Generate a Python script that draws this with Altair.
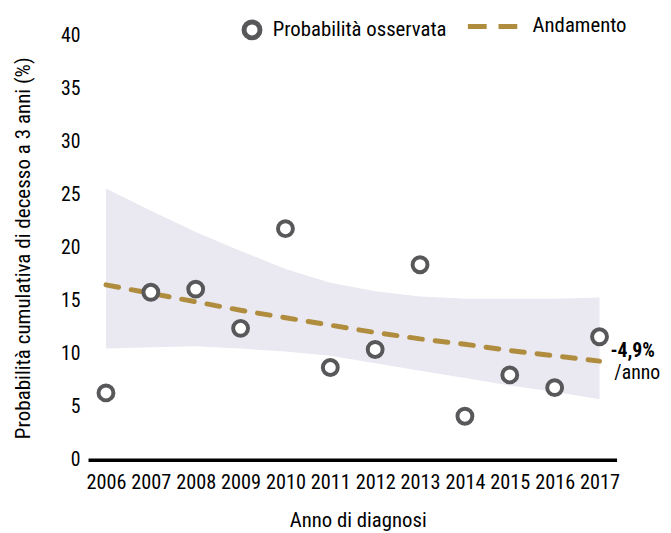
import altair as alt
import pandas as pd

years = [2006, 2007, 2008, 2009, 2010, 2011, 2012, 2013, 2014, 2015, 2016, 2017]
observed = [6.3, 15.8, 16.1, 12.4, 21.8, 8.7, 10.4, 18.4, 4.1, 8.0, 6.8, 11.6]
trend = [16.5, 15.7, 14.9, 14.1, 13.4, 12.7, 12.0, 11.4, 10.9, 10.3, 9.8, 9.3]
band_upper = [25.6, 23.5, 21.5, 19.7, 18.0, 16.7, 15.9, 15.4, 15.2, 15.2, 15.2, 15.3]
band_lower = [10.5, 10.6, 10.7, 10.5, 10.2, 9.8, 9.1, 8.4, 7.7, 7.0, 6.4, 5.7]
annot_main = "-4,9%"
annot_sub = "/anno"
lbl_obs = "Probabilità osservata"
lbl_trend = "Andamento"

FONT = "Roboto Condensed, Roboto, sans-serif"
GOLD = "#b08d3e"
GREY = "#58585a"
BAND = "#eae8f0"

df = pd.DataFrame({
    "anno": years,
    "oss": observed,
    "trend": trend,
    "up": band_upper,
    "lo": band_lower,
    "s_obs": [lbl_obs] * len(years),
    "s_trend": [lbl_trend] * len(years),
})
df_last = pd.DataFrame({"anno": [years[-1]], "trend": [trend[-1]],
                        "t1": [annot_main], "t2": [annot_sub]})

x_enc = alt.X("anno:Q",
              scale=alt.Scale(domain=[2005.6, 2017.38], nice=False, zero=False),
              axis=alt.Axis(title="Anno di diagnosi", values=years, format="d",
                            grid=False, ticks=False, domain=True,
                            domainColor="black", domainWidth=3.5,
                            labelOverlap=False, labelFlush=False,
                            labelFontSize=20.5, labelPadding=13, labelColor="black",
                            titleFontSize=21, titleFontWeight="normal",
                            titlePadding=17, titleColor="black", titleX=273,
                            labelFont=FONT, titleFont=FONT))
y_scale = alt.Scale(domain=[0, 40], nice=False)
y_axis = alt.Axis(title="Probabilità cumulativa di decesso a 3 anni (%)",
                  values=[0, 5, 10, 15, 20, 25, 30, 35, 40],
                  grid=False, ticks=False, domain=False,
                  labelFontSize=20, labelPadding=8, labelColor="black",
                  titleFontSize=21.3, titleFontWeight="normal", titlePadding=27,
                  titleColor="black", labelFont=FONT, titleFont=FONT)

base = alt.Chart(df)

band = base.mark_area(color=BAND, opacity=1).encode(
    x=x_enc,
    y=alt.Y("up:Q", scale=y_scale, axis=y_axis),
    y2="lo:Q",
)

line = base.mark_line(strokeWidth=5, strokeDash=[13, 13], strokeCap="round").encode(
    x="anno:Q",
    y="trend:Q",
    color=alt.Color("s_trend:N",
                    scale=alt.Scale(domain=[lbl_trend], range=[GOLD]),
                    legend=alt.Legend(title=None, orient="none", legendX=382, legendY=-37,
                                      symbolType="stroke", symbolDash=[19, 12],
                                      symbolStrokeWidth=5, symbolSize=2500,
                                      labelFontSize=21, labelFont=FONT, labelLimit=0,
                                      labelColor="black", labelOffset=13,
                                      padding=0)),
)

points = base.mark_point(filled=False, fill="white", fillOpacity=1,
                         strokeWidth=4, size=227, opacity=1, shape="circle").encode(
    x="anno:Q",
    y="oss:Q",
    stroke=alt.Stroke("s_obs:N",
                      scale=alt.Scale(domain=[lbl_obs], range=[GREY]),
                      legend=alt.Legend(title=None, orient="none", legendX=155, legendY=-17,
                                        symbolType="circle", symbolSize=260,
                                        symbolStrokeWidth=5, symbolFillColor="white",
                                        labelFontSize=21, labelFont=FONT, labelLimit=0,
                                        labelColor="black", labelOffset=10,
                                        padding=0)),
)

txt1 = alt.Chart(df_last).mark_text(align="left", baseline="middle", dx=11, dy=-10,
                                     fontSize=20, fontWeight="bold", font=FONT,
                                     color="black").encode(
    x="anno:Q", y="trend:Q", text="t1:N")
txt2 = alt.Chart(df_last).mark_text(align="left", baseline="middle", dx=15, dy=12,
                                     fontSize=20, font=FONT, color="black").encode(
    x="anno:Q", y="trend:Q", text="t2:N")

chart = alt.layer(band, line, points, txt1, txt2).resolve_scale(
    color="independent", stroke="independent"
).properties(
    width=535, height=429,
    autosize=alt.AutoSizeParams(type="none"),
    padding={"left": 81, "top": 25, "right": 47, "bottom": 70},
).configure_view(stroke=None)

chart.save("out.html", embed_options={"renderer": "svg", "actions": False})
